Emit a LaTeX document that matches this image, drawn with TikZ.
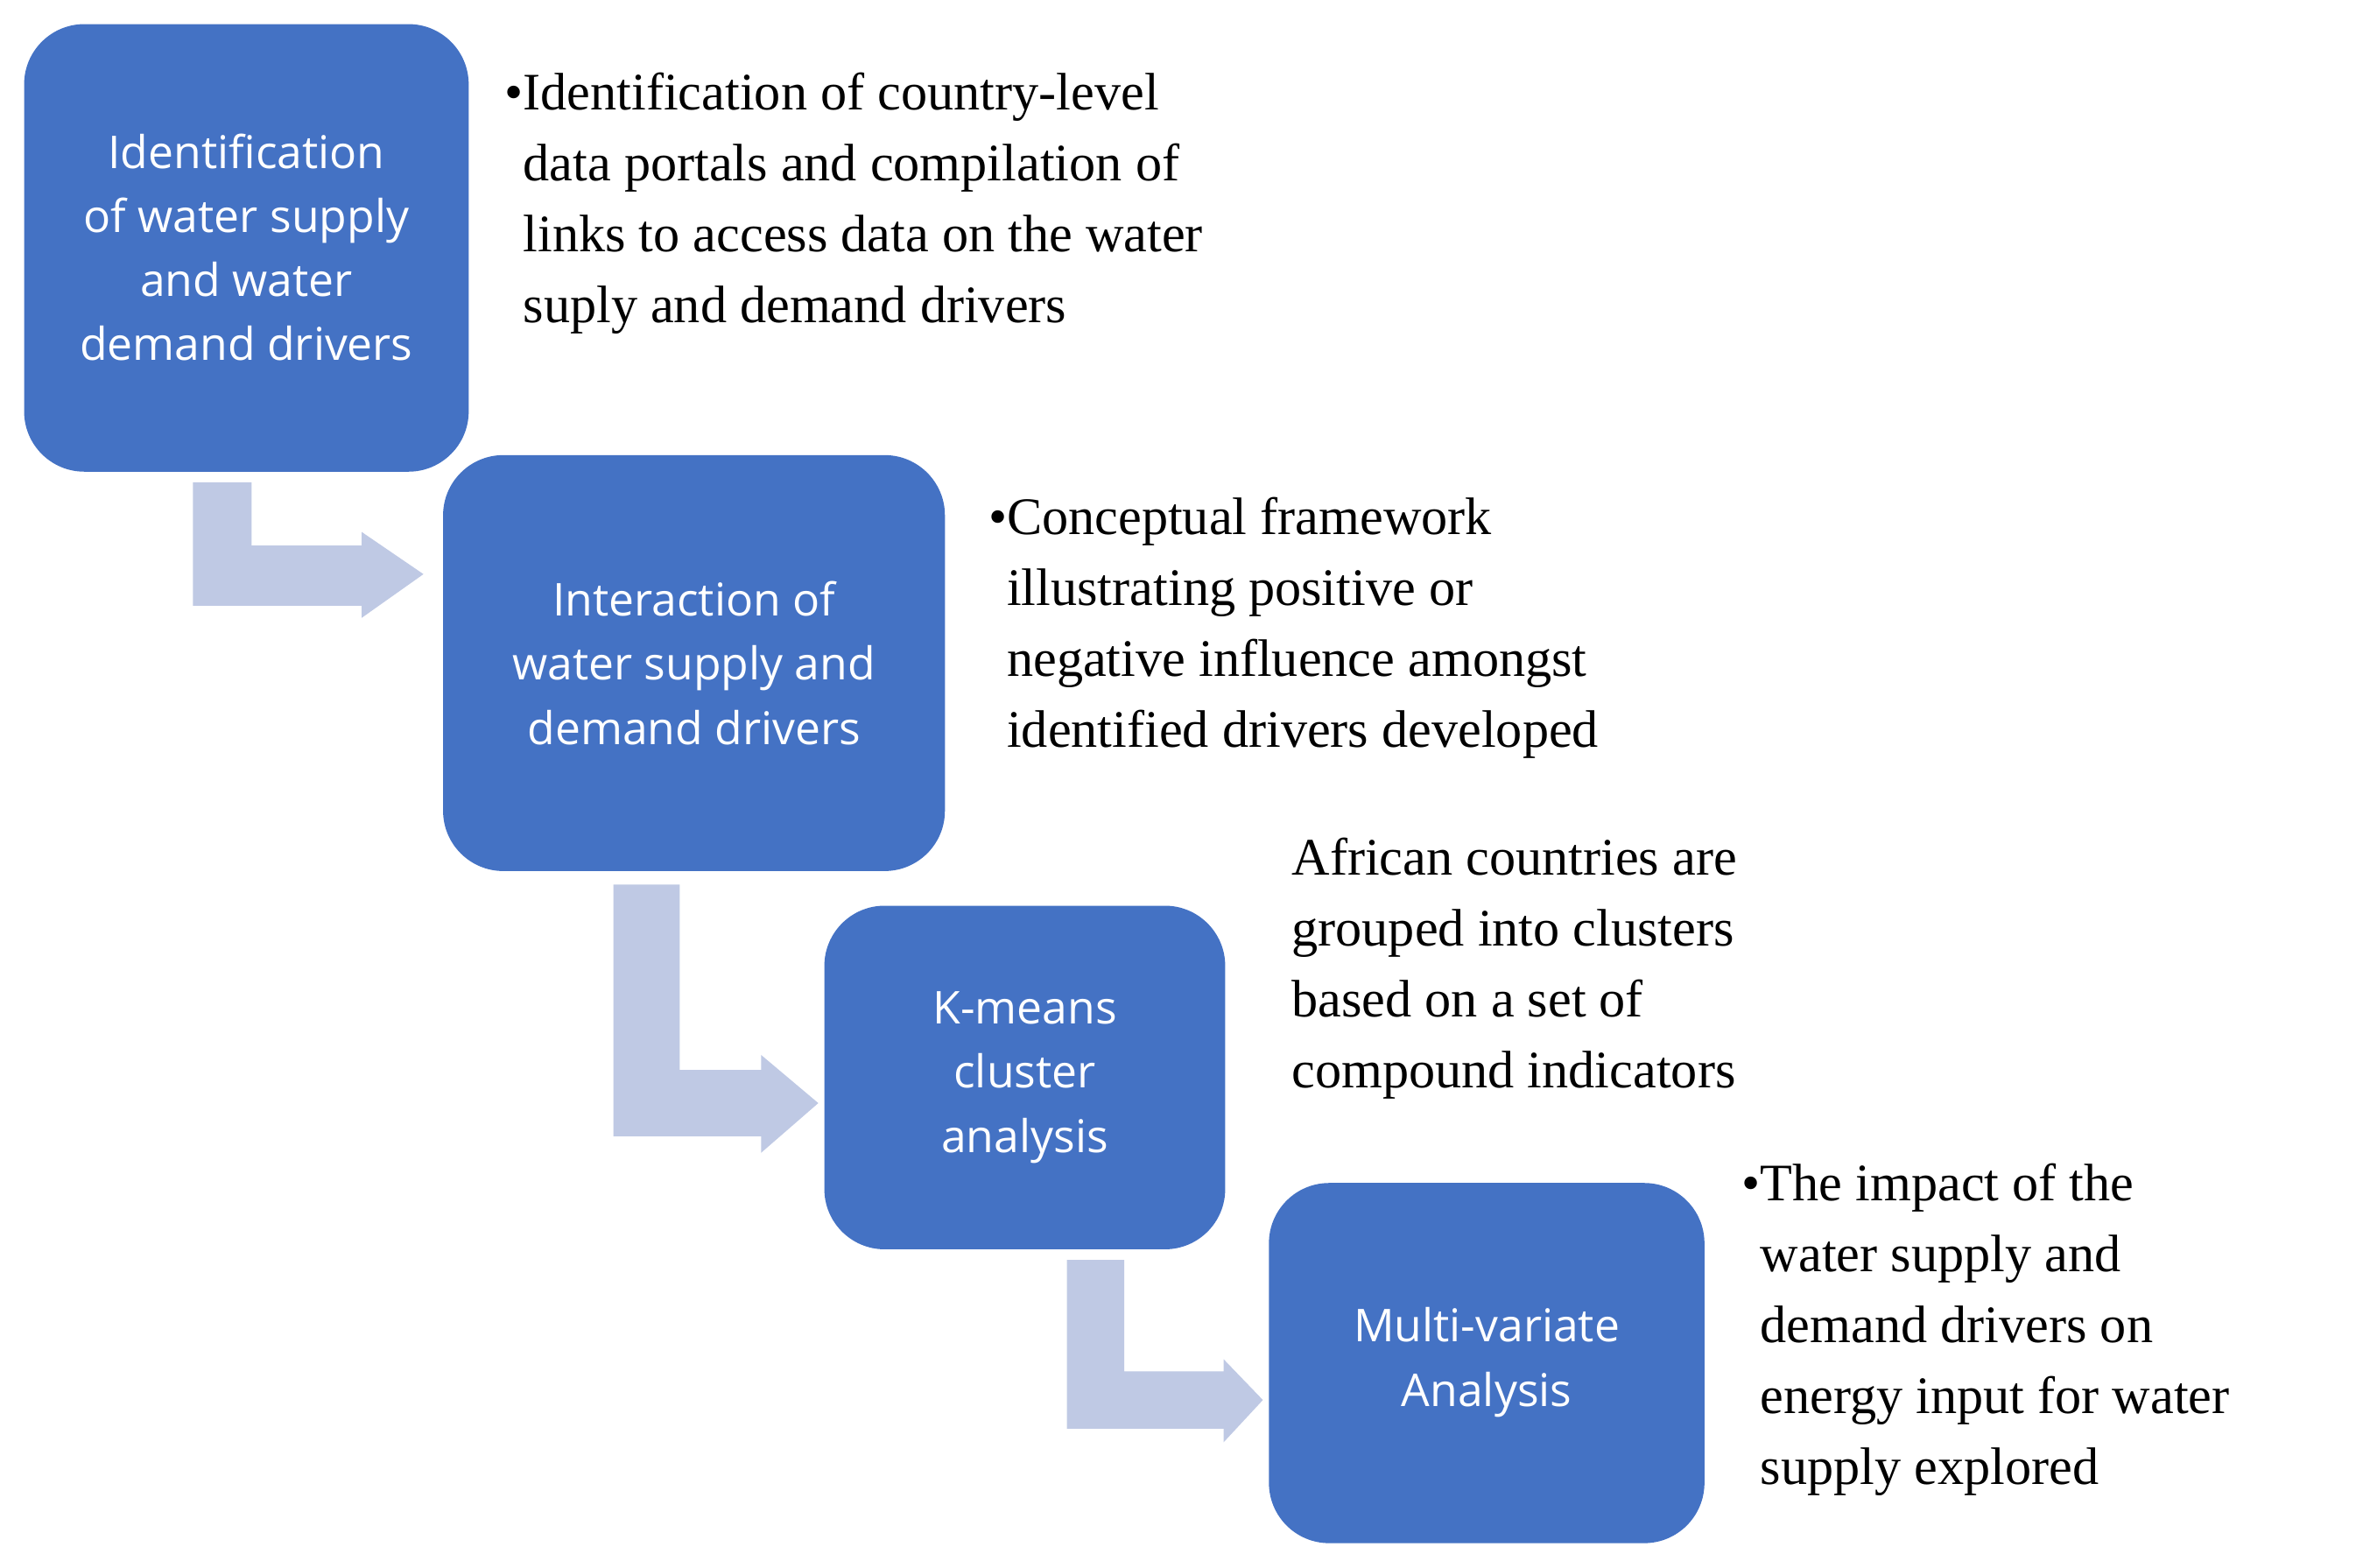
\documentclass[tikz,border=0pt]{standalone}
\usepackage{fontspec}
\setmainfont{Liberation Serif}
\newfontfamily\boxfont{Open Sans}
\begin{document}
\begin{tikzpicture}[x=1pt,y=-1pt,
  box/.style={fill=boxblue,rounded corners=40pt,draw=none},
  boxtxt/.style={text=white,align=center,font=\boxfont\fontsize{30}{42.5}\selectfont},
  side/.style={anchor=north west,align=left,inner sep=0pt,font=\fontsize{35}{47}\selectfont},
  flow/.style={fill=arrowblue,draw=none}]
\definecolor{boxblue}{HTML}{4472C4}
\definecolor{arrowblue}{HTML}{BFC9E4}
\useasboundingbox (0,0) rectangle (1568,1040);
\fill[flow] (128,320) -- (167,320) -- (167,362) -- (240,362) -- (240,353) -- (281,381) -- (240,410) -- (240,402) -- (128,402) -- cycle;
\fill[flow] (407,587) -- (451,587) -- (451,710) -- (505,710) -- (505,700) -- (543,732) -- (505,765) -- (505,754) -- (407,754) -- cycle;
\fill[flow] (708,836) -- (746,836) -- (746,910) -- (812,910) -- (812,902) -- (838,929) -- (812,957) -- (812,948) -- (708,948) -- cycle;
\fill[box] (16,16) rectangle (311,313);
\fill[box] (294,302) rectangle (627,578);
\fill[box] (547,601) rectangle (813,829);
\fill[box] (842,785) rectangle (1131,1024);
\node[boxtxt] (b1) at (163.5,164) {Identification\\of water supply\\and water\\demand drivers};
\node[boxtxt] (b2) at (460.5,440) {Interaction of\\water supply and\\demand drivers};
\node[boxtxt] (b3) at (680,715) {K-means\\cluster\\analysis};
\node[boxtxt] (b4) at (986.5,904) {Multi-variate\\Analysis};
\node[side] (t1) at (347,48) {\llap{\textbullet}Identification of country-level\\data portals and compilation of\\links to access data on the water\\suply and demand drivers};
\node[side] (t2) at (668,330) {\llap{\textbullet}Conceptual framework\\illustrating positive or\\negative influence amongst\\identified drivers developed};
\node[side] (t3) at (857,556) {African countries are\\grouped into clusters\\based on a set of\\compound indicators};
\node[side] (t4) at (1168,772) {\llap{\textbullet}The impact of the\\water supply and\\demand drivers on\\energy input for water\\supply explored};
\end{tikzpicture}
\end{document}
